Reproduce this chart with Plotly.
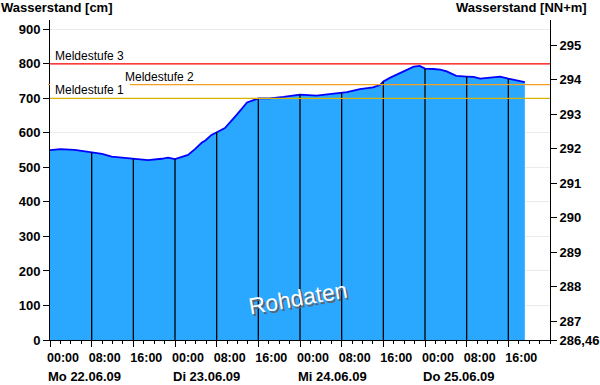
import numpy as np
import pandas as pd
import plotly.graph_objects as go

# ---- data ----
times = [
    "2009-06-22 00:00", "2009-06-22 02:00", "2009-06-22 04:45", "2009-06-22 06:40",
    "2009-06-22 08:00", "2009-06-22 10:00", "2009-06-22 11:50", "2009-06-22 14:25",
    "2009-06-22 16:20", "2009-06-22 18:50", "2009-06-22 21:25", "2009-06-22 22:40",
    "2009-06-23 00:00", "2009-06-23 01:30", "2009-06-23 02:30", "2009-06-23 03:50",
    "2009-06-23 05:10", "2009-06-23 05:50", "2009-06-23 07:00", "2009-06-23 07:40",
    "2009-06-23 09:35", "2009-06-23 11:50", "2009-06-23 13:50", "2009-06-23 16:00",
    "2009-06-23 18:10", "2009-06-23 20:50", "2009-06-24 00:00", "2009-06-24 03:10",
    "2009-06-24 06:25", "2009-06-24 09:00", "2009-06-24 11:30", "2009-06-24 14:00",
    "2009-06-24 15:25", "2009-06-24 16:00", "2009-06-24 17:20", "2009-06-24 19:10",
    "2009-06-24 20:30", "2009-06-24 21:50", "2009-06-24 23:00", "2009-06-25 00:00",
    "2009-06-25 01:35", "2009-06-25 02:55", "2009-06-25 04:10", "2009-06-25 06:00",
    "2009-06-25 08:00", "2009-06-25 09:20", "2009-06-25 10:35", "2009-06-25 12:30",
    "2009-06-25 14:25", "2009-06-25 16:00", "2009-06-25 17:35", "2009-06-25 19:10",
]
wasserstand_cm = [
    550, 553, 551, 546,
    543, 539, 531, 527,
    524, 521, 525, 528,
    524, 530, 536, 553,
    572, 578, 594, 599,
    614, 652, 688, 700,
    700, 704, 711, 708,
    713, 718, 727, 732,
    739, 749, 760, 773,
    783, 792, 794, 786,
    785, 783, 778, 765,
    763, 762, 757, 760,
    763, 757, 751, 747,
]
meldestufen_names = ["Meldestufe 1", "Meldestufe 2", "Meldestufe 3"]
meldestufen_cm = [700, 740, 800]
nn_offset_m = 286.46
date_labels = ["Mo 22.06.09", "Di 23.06.09", "Mi 24.06.09", "Do 25.06.09"]
date_label_pos = ["2009-06-22 00:00", "2009-06-23 00:00", "2009-06-24 00:00", "2009-06-25 00:00"]
time_ticks = pd.date_range("2009-06-22 00:00", "2009-06-25 16:00", freq="8h")
time_tick_text = [t.strftime("%H:%M") for t in time_ticks]
vline_times = pd.date_range("2009-06-22 08:00", "2009-06-25 16:00", freq="8h")
right_ticks = [286.46] + list(range(287, 296))
right_tick_text = ["286,46"] + [str(v) for v in range(287, 296)]

FONT = "Liberation Sans, Arial, sans-serif"
YMAX = 927

t_dt = pd.to_datetime(times)
t_num = t_dt.astype("int64").to_numpy()
vl_h = np.interp(vline_times.astype("int64").to_numpy(), t_num, wasserstand_cm)

fig = go.Figure()

fig.add_trace(go.Scatter(
    x=t_dt, y=wasserstand_cm, mode="lines", fill="tozeroy",
    fillcolor="#2aa8ff", line=dict(color="#0000ff", width=1.8),
    hoverinfo="skip", showlegend=False))

vx, vy = [], []
for t, h in zip(vline_times, vl_h):
    vx += [t, t, None]
    vy += [0, h, None]
fig.add_trace(go.Scatter(x=vx, y=vy, mode="lines", line=dict(color="black", width=1.3),
                         hoverinfo="skip", showlegend=False))

# invisible trace on right axis
fig.add_trace(go.Scatter(x=t_dt, y=np.array(wasserstand_cm) / 100 + nn_offset_m, yaxis="y2",
                         mode="lines", line=dict(width=0, color="rgba(0,0,0,0)"),
                         hoverinfo="skip", showlegend=False))

colors = {"Meldestufe 1": "#d6b400", "Meldestufe 2": "#f5a020", "Meldestufe 3": "#ff0000"}
starts = {"Meldestufe 1": 0, "Meldestufe 2": 0.16, "Meldestufe 3": 0}
label_x = {"Meldestufe 1": 0.006, "Meldestufe 2": 0.146, "Meldestufe 3": 0.006}
for name, val in zip(meldestufen_names, meldestufen_cm):
    fig.add_shape(type="line", xref="paper", yref="y", x0=starts[name], x1=1, y0=val, y1=val,
                  line=dict(color=colors[name], width=1.3), layer="above")
    fig.add_annotation(x=label_x[name], xref="paper", y=val, yref="y", yshift=8,
                       text=name, showarrow=False, xanchor="left", yanchor="middle",
                       font=dict(family=FONT, size=12, color="black"))
# small orange marker at axis for Meldestufe 2
fig.add_shape(type="line", xref="paper", yref="y", x0=-0.004, x1=0, y0=meldestufen_cm[1], y1=meldestufen_cm[1],
              line=dict(color=colors["Meldestufe 2"], width=1))

for lbl, pos in zip(date_labels, date_label_pos):
    fig.add_annotation(x=pos, xref="x", y=0, yref="paper", yshift=-36, xshift=-4,
                       text="<b>" + lbl + "</b>", showarrow=False, xanchor="left", yanchor="middle",
                       font=dict(family=FONT, size=13, color="black"))

fig.add_annotation(x=-0.102, xref="paper", y=1.04, yref="paper", text="<b>Wasserstand [cm]</b>",
                   showarrow=False, xanchor="left", yanchor="middle",
                   font=dict(family=FONT, size=13, color="black"))
fig.add_annotation(x=1.078, xref="paper", y=1.04, yref="paper", text="<b>Wasserstand [NN+m]</b>",
                   showarrow=False, xanchor="right", yanchor="middle",
                   font=dict(family=FONT, size=13, color="black"))

# watermark
for dx, dy, col in [(2, -2, "#5a6470"), (0, 0, "white")]:
    fig.add_annotation(x=0.496, xref="paper", y=0.058, yref="paper", xshift=dx, yshift=dy,
                       text="Rohdaten", showarrow=False, textangle=-10,
                       font=dict(family=FONT, size=23, color=col))

fig.update_layout(
    width=600, height=385,
    margin=dict(l=50, r=50, t=20, b=45, autoexpand=False),
    paper_bgcolor="white", plot_bgcolor="white",
    xaxis=dict(range=["2009-06-22 00:00", "2009-06-26 00:00"], tickvals=time_ticks, ticktext=time_tick_text,
               ticks="outside", ticklen=6, tickcolor="black", showgrid=False, zeroline=False,
               showline=True, linecolor="black", linewidth=1, ticklabelshift=13,
               tickfont=dict(family=FONT, size=12.5, color="black", weight="bold"),
               minor=dict(tick0="2009-06-22 00:00", dtick=7200000, ticks="outside", ticklen=3,
                          tickcolor="black", showgrid=False)),
    yaxis=dict(range=[0, YMAX], tickvals=list(range(0, 1000, 100)), ticks="outside", ticklen=6,
               tickcolor="black", showgrid=True, gridcolor="#ebebeb", gridwidth=1, zeroline=False,
               showline=True, linecolor="black", linewidth=1,
               tickfont=dict(family=FONT, size=13, color="black", weight="bold")),
    yaxis2=dict(range=[nn_offset_m, nn_offset_m + YMAX / 100], overlaying="y", side="right",
                tickvals=right_ticks, ticktext=right_tick_text, ticks="outside", ticklen=6,
                tickcolor="black", showgrid=False, zeroline=False, showline=True,
                linecolor="black", linewidth=1,
                tickfont=dict(family=FONT, size=13, color="black", weight="bold")),
)

fig.write_html("out.html", config={"displayModeBar": False},
               post_script="document.body.style.margin='0';document.body.style.overflow='hidden';")
